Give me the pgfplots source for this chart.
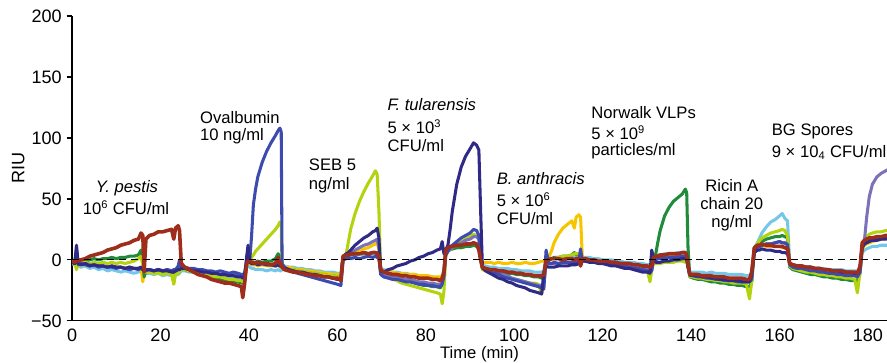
\documentclass[border=0pt]{standalone}
\usepackage{fontspec}
\setmainfont{Liberation Sans}
\usepackage{pgfplots}
\usepackage{pgfplotstable}
\pgfplotsset{compat=1.18}
\definecolor{cnv}{HTML}{2E2A85}
\definecolor{cbl}{HTML}{3D4BAE}
\definecolor{cpu}{HTML}{7B72B8}
\definecolor{clb}{HTML}{74C7E8}
\definecolor{cgr}{HTML}{1F8B3B}
\definecolor{cyg}{HTML}{B3D30E}
\definecolor{cgo}{HTML}{F7C500}
\definecolor{crd}{HTML}{9E2D1C}
\pgfplotstableread{
t nv bl pu lb gr yg go rd
0 -2 -2 -2 -3 -1 -2 -3 -1
0.6 -3 -3 -3 -4 -1 -2 -3 -2
1.0 12 8 2 -4 1 -8 -3 0
1.4 -3 -4 -3 -5 0 -3 -4 -1
2 -4 -3 -4 -6 0 -3 -4 0
3 -3 -4 -3 -5 -1 -2 -4 1
4 -5 -5 -4 -7 0 -3 -5 3
5 -4 -4 -5 -6 1 -2 -4 4
6 -5 -6 -5 -8 0 -3 -5 5
7 -5 -5 -5 -7 1 -2 -5 6
8 -6 -6 -6 -9 1 -3 -6 8
9 -5 -6 -5 -8 2 -2 -5 9
10 -6 -7 -6 -9 1 -3 -6 10
11 -6 -6 -6 -10 2 -2 -6 12
12 -7 -7 -7 -9 2 -3 -7 13
13 -6 -8 -6 -10 3 -2 -6 14
14 -7 -7 -7 -11 3 -1 -7 16
15 -7 -8 -7 -10 4 1 -7 17
15.6 -6 -7 -6 -9 8 3 -6 22
16.0 -8 -8 -7 -12 2 -5 -18 20
16.3 -9 -9 -8 -12 -14 -10 -10 -10
16.7 -8 -9 -8 -11 -9 -10 -10 17
17.5 -8 -8 -8 -11 -9 -10 -10 20
18.5 -9 -9 -9 -12 -10 -11 -11 21
19.5 -8 -8 -8 -11 -9 -11 -10 23
20.5 -9 -9 -9 -13 -10 -12 -11 23
21.5 -9 -8 -8 -12 -10 -11 -11 24
22.5 -10 -9 -9 -13 -11 -12 -12 25
23.0 -10 -8 -9 -13 -10 -20 -11 17
23.4 -9 -8 -9 -12 -10 -12 -11 26
24.0 -8 -5 -8 -12 -9 -11 -10 28
24.3 -8 0 -7 -11 -8 -10 -9 24
24.7 -7 -6 -7 -9 -7 -7 -7 -3
25.5 -7 -6 -7 -9 -8 -8 -8 -6
26.5 -8 -7 -8 -10 -9 -9 -9 -8
27.5 -9 -7 -9 -10 -10 -10 -10 -10
28.5 -9 -8 -9 -11 -11 -11 -10 -12
29.5 -10 -8 -10 -12 -12 -12 -11 -13
30.5 -10 -9 -10 -12 -13 -12 -12 -14
31.5 -11 -9 -11 -13 -14 -13 -13 -16
32.5 -11 -10 -11 -13 -15 -14 -14 -17
33.5 -12 -9 -12 -14 -16 -14 -14 -18
34.5 -12 -10 -12 -14 -16 -15 -15 -19
35.5 -13 -11 -12 -15 -17 -16 -16 -19
36.5 -13 -10 -13 -14 -18 -16 -16 -20
37.5 -14 -11 -13 -15 -18 -17 -17 -21
38.3 -14 -12 -14 -15 -19 -17 -18 -22
38.6 -15 -12 -14 -16 -19 -18 -18 -31
39.0 -14 -11 -13 -15 -18 -17 -17 -20
39.5 3 -2 -3 -4 -2 -2 -3 -3
39.8 12 10 -2 -5 -1 -1 -3 -1
40.2 -2 0 -2 -6 -2 0 -3 -1
40.6 -3 20 -3 -7 -2 2 -4 -2
41 -3 45 -3 -7 -2 4 -4 -2
41.5 -3 58 -3 -8 -2 7 -4 -3
42 -4 68 -4 -8 -1 9 -5 -2
43 -3 80 -3 -8 -2 13 -4 -3
44 -4 89 -4 -9 -1 17 -5 -3
45 -4 96 -4 -8 -1 21 -5 -4
46 -5 102 -5 -9 1 25 -5 -3
46.6 -4 106 -4 -8 5 28 -4 2
47 -5 108 -5 -9 3 31 -6 -3
47.3 -5 105 -5 -9 1 30 -6 -4
47.5 -6 -3 -6 -5 -6 -5 -5 -6
48 -7 -6 -7 -5 -7 -7 -6 -8
49 -8 -8 -8 -6 -8 -8 -6 -9
50 -9 -10 -9 -6 -8 -8 -7 -10
51 -10 -11 -10 -7 -9 -9 -8 -10
52 -10 -12 -10 -7 -10 -9 -8 -11
53 -11 -13 -11 -8 -10 -10 -9 -12
54 -12 -14 -12 -8 -11 -11 -9 -12
55 -12 -15 -12 -9 -11 -11 -10 -13
56 -13 -16 -13 -9 -12 -12 -10 -13
57 -14 -17 -14 -10 -12 -12 -11 -14
58 -14 -18 -14 -10 -13 -13 -11 -14
59 -15 -19 -15 -10 -13 -13 -12 -15
60 -16 -20 -16 -11 -14 -14 -12 -15
60.8 -15 -21 -16 -11 -14 -14 -12 -17
61.3 3 0 2 3 2 2 3 3
62 5 1 4 3 3 5 4 4
62.5 6 2 5 4 4 15 5 4
63 8 1 6 4 4 25 6 5
64 12 2 8 4 5 38 7 5
65 15 1 10 5 5 48 8 5
66 18 2 12 4 6 56 9 6
67 20 3 13 5 5 63 10 5
68 23 2 15 5 6 69 12 6
68.6 24 3 16 6 6 73 13 6
69 26 2 17 5 6 70 14 5
69.4 18 1 10 3 3 40 8 3
69.8 -9 -12 -11 -7 -11 -10 -8 -8
70.5 -10 -14 -12 -8 -12 -12 -9 -10
71.5 -8 -15 -13 -9 -13 -14 -10 -11
72.5 -7 -16 -14 -10 -14 -16 -10 -12
73.5 -5 -16 -14 -10 -15 -17 -11 -12
74.5 -4 -17 -15 -11 -16 -19 -11 -13
75.5 -3 -18 -16 -11 -17 -20 -12 -13
76.5 -1 -18 -16 -12 -18 -21 -12 -14
77.5 0 -19 -17 -12 -19 -22 -12 -14
78.5 2 -20 -18 -13 -20 -23 -13 -15
79.5 3 -20 -18 -13 -21 -24 -13 -15
80.5 5 -21 -19 -14 -21 -25 -13 -15
81.5 6 -21 -19 -14 -22 -26 -14 -16
82.5 8 -22 -20 -15 -22 -27 -14 -16
83.3 9 -22 -20 -15 -23 -28 -14 -17
83.7 15 -20 -18 -13 -20 -36 -13 -15
84.1 5 -14 -12 -8 -10 -26 -9 -10
84.5 8 4 4 6 5 3 6 8
85 12 7 7 8 8 7 8 10
85.5 25 10 9 8 9 9 9 11
86 40 12 10 9 9 11 9 11
87 62 15 12 10 10 13 10 12
88 76 18 14 10 10 15 10 12
89 85 20 16 11 11 17 11 13
90 91 22 17 11 11 19 11 13
90.8 96 25 19 12 12 21 12 14
91.5 94 24 19 12 11 20 12 13
92 90 20 17 11 10 17 11 8
92.4 40 3 3 2 0 0 2 0
92.8 -6 -7 -6 -5 -7 -8 -3 -6
93.5 -9 -8 -8 -5 -8 -9 -2 -7
94.5 -11 -10 -9 -6 -9 -10 -2 -8
95.5 -13 -11 -10 -6 -9 -11 -3 -8
96.5 -15 -12 -11 -7 -10 -12 -2 -9
97.5 -16 -14 -12 -7 -10 -13 -3 -9
98.5 -18 -15 -13 -7 -11 -14 -3 -10
99.5 -19 -16 -15 -8 -11 -15 -2 -10
100.5 -21 -17 -16 -8 -12 -16 -3 -11
101.5 -22 -18 -17 -9 -12 -17 -3 -11
102.5 -23 -19 -18 -9 -13 -18 -2 -12
103.5 -25 -20 -19 -9 -13 -19 -3 -12
104.5 -26 -21 -20 -10 -14 -19 -3 -13
105.5 -27 -22 -21 -10 -14 -20 -2 -13
106.2 -28 -23 -21 -10 -15 -28 -1 -13
106.7 -10 -24 -20 -9 -14 -20 -1 -12
107.2 -5 8 -3 0 0 -2 0 0
107.8 -6 -3 -3 0 1 0 2 0
108.5 -6 -3 -3 1 1 1 8 1
109 -6 -2 -3 1 2 1 14 1
110 -5 -3 -3 1 2 2 21 1
111 -5 -2 -2 1 3 3 26 0
112 -5 -2 -2 2 3 3 29 1
113 -4 -2 -2 2 4 4 32 1
113.6 -4 -1 -2 2 6 5 26 0
114 -4 -2 -2 2 4 5 35 1
114.6 -3 -1 -2 2 5 5 37 1
115 -4 9 -2 1 4 4 35 -5
115.4 -1 -1 -1 2 1 1 2 1
116 -1 0 -1 2 1 0 1 1
117 -2 -1 -1 2 0 0 0 0
118 -2 -1 -2 1 0 -1 0 0
119 -3 -2 -2 1 -1 -1 -1 -1
120 -3 -2 -3 0 -1 -2 -1 -1
121 -4 -3 -3 0 -2 -2 -2 -1
122 -5 -3 -4 0 -2 -3 -2 -2
123 -5 -4 -4 -1 -3 -3 -3 -2
124 -6 -5 -5 -1 -3 -4 -3 -3
125 -7 -5 -5 -2 -4 -4 -4 -3
126 -7 -6 -6 -2 -4 -5 -4 -3
127 -8 -7 -6 -2 -5 -5 -5 -4
128 -9 -7 -7 -3 -5 -6 -5 -4
129 -10 -8 -8 -3 -6 -7 -6 -5
130 -10 -9 -8 -4 -6 -7 -6 -5
130.7 -11 -10 -9 -4 -7 -18 -7 -6
131.1 8 -9 -8 -3 -6 -8 -6 -5
131.5 0 1 1 3 2 -3 1 2
132 -2 0 1 3 5 -3 1 3
132.5 -2 1 1 4 15 -3 1 3
133 -2 1 1 4 24 -3 2 4
134 -1 1 2 5 36 -2 2 4
135 -1 2 2 5 43 -2 2 5
136 0 2 2 5 48 -2 3 5
137 0 2 3 6 51 -1 3 5
138 1 3 3 6 54 -1 3 6
138.7 1 3 3 6 58 -2 3 6
139 0 3 2 5 55 -1 2 4
139.3 -6 -5 -5 -4 10 -6 -5 -4
139.7 -12 -13 -12 -10 -14 -14 -12 -12
140.5 -13 -13 -12 -10 -15 -14 -12 -12
141.5 -13 -14 -13 -10 -16 -15 -13 -12
142.5 -14 -14 -13 -10 -16 -15 -13 -13
143.5 -14 -15 -14 -11 -17 -16 -14 -13
144.5 -15 -15 -14 -10 -18 -16 -15 -13
145.5 -15 -16 -15 -11 -18 -17 -15 -14
146.5 -16 -16 -15 -11 -19 -17 -16 -14
147.5 -16 -17 -16 -11 -19 -18 -16 -14
148.5 -17 -17 -16 -12 -20 -18 -17 -15
149.5 -17 -17 -16 -12 -20 -19 -17 -15
150.5 -17 -18 -17 -12 -21 -19 -17 -15
151.5 -18 -18 -17 -12 -21 -19 -18 -15
152.5 -18 -18 -17 -13 -22 -20 -18 -16
153.2 -18 -18 -17 -13 -22 -32 -18 -16
153.7 -12 -16 -14 -10 -18 -18 -14 -10
154.3 6 8 8 10 10 10 10 10
155 8 10 10 14 12 13 12 12
155.5 8 11 11 18 14 16 12 12
156 9 12 12 22 15 18 12 13
157 8 13 13 27 17 20 11 12
158 8 13 13 31 18 22 11 12
159 7 14 14 33 19 23 11 11
160 7 15 15 36 19 24 11 11
160.6 6 14 14 38 20 25 10 11
161.2 6 14 14 34 19 24 10 10
161.8 5 12 13 32 18 20 9 9
162.3 -3 -4 -4 -3 -6 -5 -4 -3
163 -4 -6 -6 -5 -8 -7 -6 -4
164 -5 -7 -7 -5 -9 -8 -6 -5
165 -5 -7 -7 -6 -10 -9 -7 -5
166 -6 -8 -8 -6 -11 -10 -7 -6
167 -6 -9 -8 -6 -12 -10 -8 -6
168 -7 -9 -9 -7 -12 -11 -8 -7
169 -7 -10 -9 -7 -13 -12 -9 -7
170 -8 -10 -10 -7 -14 -12 -9 -8
171 -8 -11 -10 -8 -14 -13 -10 -8
172 -9 -11 -11 -8 -15 -13 -10 -9
173 -9 -12 -11 -8 -15 -14 -11 -9
174 -10 -12 -12 -8 -16 -14 -11 -9
175 -10 -13 -12 -9 -16 -15 -11 -10
176 -10 -13 -12 -9 -17 -15 -12 -10
177 -11 -13 -13 -9 -17 -16 -12 -10
177.6 -11 -14 -13 -9 -17 -27 -12 -11
178.2 -5 -10 -8 -12 -10 -10 -8 -6
178.7 10 12 12 6 12 14 8 14
179.2 13 15 16 8 15 17 12 16
179.7 14 16 35 9 16 19 13 17
180.3 15 16 52 10 17 21 14 18
181 16 17 62 11 18 22 15 18
182 16 17 68 11 18 23 16 19
183 17 18 71 12 19 23 17 19
184 17 18 73 12 19 24 17 20
185 18 18 75 12 20 24 18 20
}\data
\begin{document}
\begin{tikzpicture}
\begin{axis}[
  name=ax,
  width=588pt, height=220pt, scale only axis,
  xmin=0, xmax=184.3, ymin=-50, ymax=200,
  axis x line=bottom, axis y line=left,
  axis line style={line width=0.9pt, -},
  xtick={0,20,40,60,80,100,120,140,160,180},
  xticklabels={0,20,40,60,80,100,120,140,160,180},
  ytick={-50,0,50,100,150,200},
  yticklabels={−50,0,50,100,150,200},
  tick align=outside,
  major tick length=4pt,
  xtick style={draw=none},
  ytick style={line width=0.9pt, black},
  ticklabel style={font=\fontsize{13}{15}\selectfont},
  xticklabel style={inner sep=1pt, yshift=-0.5pt},
  xlabel={Time (min)},
  ylabel={RIU},
  label style={font=\fontsize{13}{15}\selectfont},
  xlabel style={at={(axis description cs:0.5,-0.1345)}, anchor=south, inner sep=0pt, font=\fontsize{12}{14}\selectfont},
  ylabel style={at={(axis description cs:-0.066,0.5)}, anchor=center, rotate=0},
  every axis plot/.append style={line width=2.2pt, line join=round},
  clip=true,
]
\addplot[clb] table[x=t, y=lb] {\data};
\addplot[cgo] table[x=t, y=go] {\data};
\addplot[cgr] table[x=t, y=gr] {\data};
\addplot[cyg] table[x=t, y=yg] {\data};
\addplot[cpu] table[x=t, y=pu] {\data};
\addplot[cbl] table[x=t, y=bl] {\data};
\addplot[cnv] table[x=t, y=nv] {\data};
\addplot[crd, line width=2.6pt] table[x=t, y=rd] {\data};
\addplot[black, line width=0.8pt, dash pattern=on 5pt off 3.5pt] coordinates {(0,0) (185,0)};

\begin{scope}[every node/.style={font=\fontsize{12}{14}\selectfont, inner sep=0pt}]
\node[anchor=center] at (axis cs:12.4,59) {\itshape Y. pestis};
\node[anchor=center] at (axis cs:12.2,43) {10\textsuperscript{6} CFU/ml};
\node[anchor=west] at (axis cs:28.9,117) {Ovalbumin};
\node[anchor=west] at (axis cs:28.9,101) {10 ng/ml};
\node[anchor=west] at (axis cs:53.5,78) {SEB 5};
\node[anchor=west] at (axis cs:53.5,61) {ng/ml};
\node[anchor=west] at (axis cs:71.3,127) {\itshape F. tularensis};
\node[anchor=west] at (axis cs:71.3,109) {5 × 10\textsuperscript{3}};
\node[anchor=west] at (axis cs:71.3,94) {CFU/ml};
\node[anchor=west] at (axis cs:96,67) {\itshape B. anthracis};
\node[anchor=west] at (axis cs:96,49) {5 × 10\textsuperscript{6}};
\node[anchor=west] at (axis cs:96,34) {CFU/ml};
\node[anchor=west] at (axis cs:117.4,121) {Norwalk VLPs};
\node[anchor=west] at (axis cs:117.4,104) {5 × 10\textsuperscript{9}};
\node[anchor=west] at (axis cs:117.4,89) {particles/ml};
\node[anchor=center] at (axis cs:149.2,61) {Ricin A};
\node[anchor=center] at (axis cs:149.2,46) {chain 20};
\node[anchor=center] at (axis cs:149.2,30) {ng/ml};
\node[anchor=west] at (axis cs:158.2,105) {BG Spores};
\node[anchor=west] at (axis cs:158.2,88) {9 × 10\textsubscript{4} CFU/ml};
\end{scope}
\end{axis}
\pgfresetboundingbox
\useasboundingbox ([xshift=-52pt,yshift=-30.3pt]ax.south west) rectangle ([yshift=11.5pt]ax.north east);
\end{tikzpicture}
\end{document}
